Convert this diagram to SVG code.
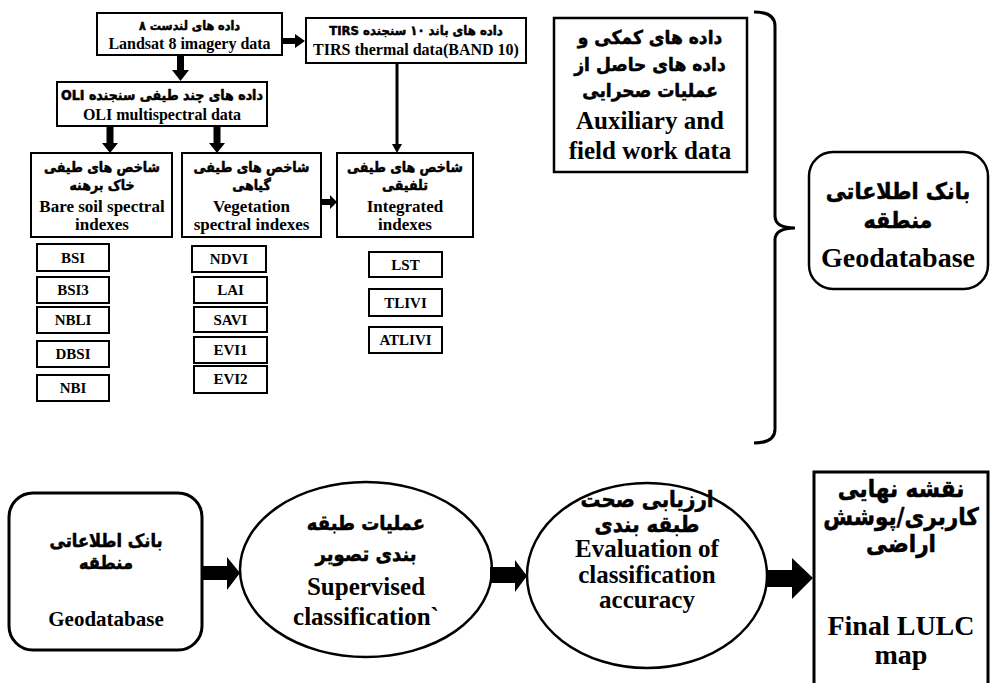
<svg xmlns="http://www.w3.org/2000/svg" width="990" height="683" viewBox="0 0 990 683">
<style>
.box{fill:#fff;stroke:#000;stroke-width:2}
.thick{fill:#fff;stroke:#000;stroke-width:3}
.en{font-family:"Liberation Serif","Times New Roman",serif;font-weight:bold;fill:#000;text-anchor:middle}
.fa{font-family:"DejaVu Sans Condensed","DejaVu Sans","Noto Sans",sans-serif;font-weight:bold;fill:#000;stroke:#000;stroke-width:0.5;stroke-linejoin:round;text-anchor:middle;direction:rtl}
.arr{fill:#000;stroke:none}
.ln{fill:none;stroke:#000;stroke-width:3}
</style>
<rect width="990" height="683" fill="#fff"/>

<g id="landsat">
<rect class="box" x="97" y="13" width="185" height="42"/>
<text class="fa" x="189.5" y="30" font-size="12.5" direction="rtl">داده های لندست ۸</text>
<text class="en" x="189.5" y="49" font-size="16">Landsat 8 imagery data</text>
</g>

<g id="tirs">
<rect class="box" x="306" y="18" width="220" height="45"/>
<text class="fa" x="416" y="35" font-size="13" direction="rtl">داده های باند ۱۰ سنجنده TIRS</text>
<text class="en" x="416" y="55" font-size="16">TIRS thermal data(BAND 10)</text>
</g>

<g id="oli">
<rect class="box" x="57" y="82" width="210" height="44"/>
<text class="fa" x="162" y="100" font-size="14" direction="rtl">داده های چند طیفی سنجنده OLI</text>
<text class="en" x="162" y="120" font-size="16">OLI multispectral data</text>
</g>

<g id="baresoil">
<rect class="box" x="31" y="153" width="141" height="84"/>
<text class="fa" x="102" y="172" font-size="14" direction="rtl">شاخص های طیفی</text>
<text class="fa" x="102" y="190" font-size="14" direction="rtl">خاک برهنه</text>
<text class="en" x="102" y="212" font-size="17">Bare soil spectral</text>
<text class="en" x="102" y="230" font-size="17">indexes</text>
</g>

<g id="vegetation">
<rect class="box" x="182" y="153" width="139" height="84"/>
<text class="fa" x="251.5" y="172" font-size="14" direction="rtl">شاخص های طیفی</text>
<text class="fa" x="251.5" y="190" font-size="14" direction="rtl">گیاهی</text>
<text class="en" x="251.5" y="212" font-size="17">Vegetation</text>
<text class="en" x="251.5" y="230" font-size="17">spectral indexes</text>
</g>

<g id="integrated">
<rect class="box" x="337" y="153" width="136" height="84"/>
<text class="fa" x="405" y="172" font-size="14" direction="rtl">شاخص های طیفی</text>
<text class="fa" x="405" y="190" font-size="14" direction="rtl">تلفیقی</text>
<text class="en" x="405" y="212" font-size="17">Integrated</text>
<text class="en" x="405" y="230" font-size="17">indexes</text>
</g>

<g id="bsi"><rect class="box" x="37" y="244" width="72" height="27"/><text class="en" x="73" y="263" font-size="15">BSI</text></g>
<g id="bsi3"><rect class="box" x="37" y="277" width="72" height="26"/><text class="en" x="73" y="295" font-size="15">BSI3</text></g>
<g id="nbli"><rect class="box" x="37" y="307" width="72" height="26"/><text class="en" x="73" y="325" font-size="15">NBLI</text></g>
<g id="dbsi"><rect class="box" x="37" y="341" width="72" height="26"/><text class="en" x="73" y="359" font-size="15">DBSI</text></g>
<g id="nbi"><rect class="box" x="37" y="375" width="72" height="26"/><text class="en" x="73" y="393" font-size="15">NBI</text></g>

<g id="ndvi"><rect class="box" x="192" y="246" width="74" height="26"/><text class="en" x="229" y="264" font-size="15">NDVI</text></g>
<g id="lai"><rect class="box" x="194" y="277" width="73" height="26"/><text class="en" x="230.5" y="295" font-size="15">LAI</text></g>
<g id="savi"><rect class="box" x="194" y="307" width="73" height="25"/><text class="en" x="230.5" y="325" font-size="15">SAVI</text></g>
<g id="evi1"><rect class="box" x="194" y="337" width="73" height="26"/><text class="en" x="230.5" y="355" font-size="15">EVI1</text></g>
<g id="evi2"><rect class="box" x="194" y="366" width="73" height="27"/><text class="en" x="230.5" y="384" font-size="15">EVI2</text></g>

<g id="lst"><rect class="box" x="369" y="252" width="73" height="25"/><text class="en" x="405.5" y="270" font-size="15">LST</text></g>
<g id="tlivi"><rect class="box" x="369" y="289" width="73" height="27"/><text class="en" x="405.5" y="308" font-size="15">TLIVI</text></g>
<g id="atlivi"><rect class="box" x="369" y="327" width="73" height="26"/><text class="en" x="405.5" y="345" font-size="15">ATLIVI</text></g>

<g id="auxiliary">
<rect class="box" x="554" y="18" width="193" height="154" style="stroke-width:2.5"/>
<text class="fa" x="650" y="44" font-size="19" direction="rtl">داده های کمکی و</text>
<text class="fa" x="650" y="71" font-size="19" direction="rtl">داده های  حاصل از</text>
<text class="fa" x="650" y="97" font-size="19" direction="rtl">عملیات صحرایی</text>
<text class="en" x="650" y="129" font-size="25">Auxiliary and</text>
<text class="en" x="650" y="159" font-size="25">field work data</text>
</g>

<g id="geodatabase-top">
<rect class="box" x="809" y="152" width="179" height="137" rx="24" style="stroke-width:2.5"/>
<text class="fa" x="898" y="199" font-size="23" direction="rtl">بانک اطلاعاتی</text>
<text class="fa" x="898" y="228" font-size="23" direction="rtl">منطقه</text>
<text class="en" x="898" y="267" font-size="28">Geodatabase</text>
</g>

<g id="geodatabase">
<rect class="thick" x="9" y="493" width="193" height="157" rx="24"/>
<text class="fa" x="106" y="547" font-size="18" direction="rtl">بانک اطلاعاتی</text>
<text class="fa" x="106" y="569" font-size="18" direction="rtl">منطقه</text>
<text class="en" x="106" y="626" font-size="21">Geodatabase</text>
</g>

<g id="classification">
<ellipse class="thick" cx="366" cy="569.5" rx="126" ry="87.5" style="stroke-width:2.5"/>
<text class="fa" x="366" y="530" font-size="20" direction="rtl">عملیات طبقه</text>
<text class="fa" x="366" y="561" font-size="20" direction="rtl">بندی تصویر</text>
<text class="en" x="366" y="595" font-size="25">Supervised</text>
<text class="en" x="366" y="625" font-size="25">classification`</text>
</g>

<g id="evaluation">
<ellipse class="thick" cx="647" cy="575.5" rx="120" ry="92.5" style="stroke-width:2.5"/>
<text class="fa" x="647" y="507" font-size="22" direction="rtl">ارزیابی صحت</text>
<text class="fa" x="647" y="532" font-size="22" direction="rtl">طبقه بندی</text>
<text class="en" x="647" y="557" font-size="25">Evaluation of</text>
<text class="en" x="647" y="583" font-size="25">classification</text>
<text class="en" x="647" y="608" font-size="25">accuracy</text>
</g>

<g id="final">
<rect class="thick" x="814" y="472" width="174" height="220"/>
<text class="fa" x="901" y="497" font-size="24" direction="rtl">نقشه نهایی</text>
<text class="fa" x="901" y="525" font-size="24" direction="rtl">کاربری/پوشش</text>
<text class="fa" x="901" y="552" font-size="24" direction="rtl">اراضی</text>
<text class="en" x="901" y="635" font-size="28">Final LULC</text>
<text class="en" x="901" y="664" font-size="28">map</text>
</g>

<g id="connectors">
<polygon class="arr" points="282,38 295,38 295,34 305,41 295,48 295,44 282,44"/>
<polygon class="arr" points="177,55 184,55 184,70 189,70 180.5,81 172,70 177,70"/>
<polygon class="arr" points="106.5,126 113.5,126 113.5,143 118,143 110,153 102,143 106.5,143"/>
<polygon class="arr" points="213.5,126 220.5,126 220.5,143 225,143 217,153 209,143 213.5,143"/>
<line class="ln" x1="397" y1="63" x2="397" y2="145"/>
<polygon class="arr" points="392,144 402,144 397,153"/>
<polygon class="arr" points="321,199 330,199 330,195 337,202 330,209 330,205 321,205"/>
<polygon class="arr" points="202,566 227,566 227,557 240,573 227,590 227,580 202,580"/>
<polygon class="arr" points="490,567 515,567 515,560 527,576 515,592 515,583 490,583"/>
<polygon class="arr" points="767,570 792,570 792,558 813,578 792,599 792,587 767,587"/>
<path class="ln" d="M754,12 Q775,12 775,26 L775,216 Q775,228 795,228 Q775,228 775,240 L775,429 Q775,443 754,443"/>
</g>
</svg>
